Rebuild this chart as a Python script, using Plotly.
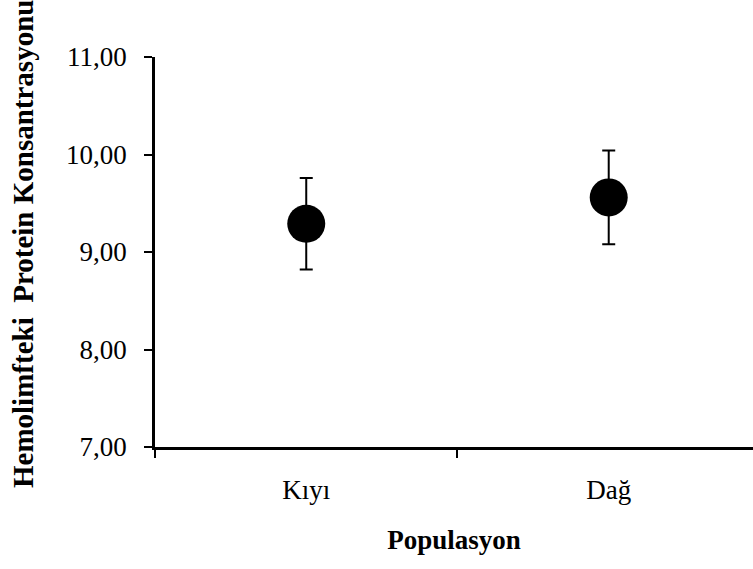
import plotly.graph_objects as go

# Hemolymph protein concentration by population (mean ± error)
populations = ["Kıyı", "Dağ"]
mean_protein = [9.29, 9.56]
error_protein = [0.47, 0.48]

y_ticks = [7, 8, 9, 10, 11]

serif = "Liberation Serif, Times New Roman, serif"

fig = go.Figure()
fig.add_trace(go.Scatter(
    x=populations,
    y=mean_protein,
    mode="markers",
    marker=dict(size=38, color="black", line=dict(width=0)),
    error_y=dict(type="data", array=error_protein, visible=True,
                 color="black", thickness=2, width=6.5),
    showlegend=False,
    hoverinfo="skip",
))

fig.update_layout(
    width=753,
    height=569,
    margin=dict(l=155, r=0, t=57, b=122),
    paper_bgcolor="white",
    plot_bgcolor="white",
    separators=",.",
    font=dict(family=serif, size=27, color="black"),
    xaxis=dict(
        type="category",
        range=[-0.5, 1.477],
        tickson="boundaries",
        ticks="outside",
        ticklen=8,
        tickwidth=2,
        tickcolor="black",
        showline=True,
        linewidth=2.5,
        linecolor="black",
        showgrid=False,
        zeroline=False,
        ticklabelstandoff=17,
        automargin=False,
        title=dict(text="<b>Populasyon</b>",
                   font=dict(family=serif, size=27),
                   standoff=26),
    ),
    yaxis=dict(
        range=[7, 11],
        tickvals=y_ticks,
        tickformat=".2f",
        ticks="outside",
        ticklen=8,
        tickwidth=2,
        tickcolor="black",
        showline=True,
        linewidth=2.5,
        linecolor="black",
        showgrid=False,
        zeroline=False,
        ticklabelstandoff=12,
        automargin=False,
    ),
    annotations=[dict(
        text="<b>Hemolimfteki  Protein Konsantrasyonu</b>",
        textangle=-90,
        xref="paper", yref="paper",
        x=-0.221, y=0.52,
        xanchor="center", yanchor="middle",
        showarrow=False,
        font=dict(family=serif, size=29),
    )],
)

fig.write_html("out.html")
